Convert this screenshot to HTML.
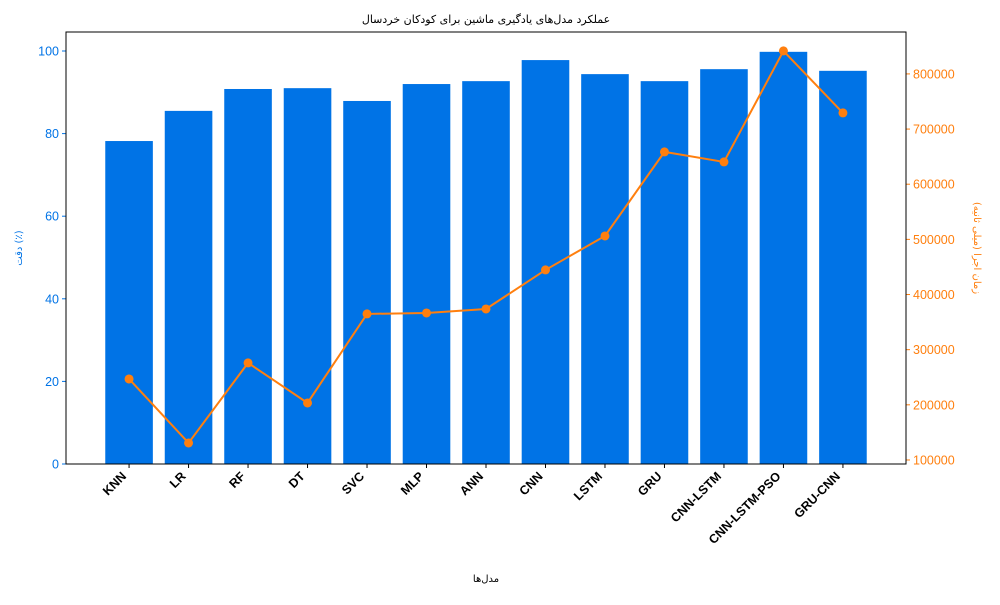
<!DOCTYPE html>
<html><head><meta charset="utf-8"><style>
body{margin:0;background:#fff;}
svg text{font-family:"Liberation Sans","DejaVu Sans",sans-serif;}
</style></head><body>
<svg id="chart" width="1000" height="600" xmlns="http://www.w3.org/2000/svg">
<text x="486" y="23" font-size="11" text-anchor="middle" style="font-family:'DejaVu Sans','Noto Sans CJK SC',sans-serif">عملکرد مدل‌های یادگیری ماشین برای کودکان خردسال</text>
<g id="plot"></g>
<text x="486" y="582" font-size="10" text-anchor="middle" style="font-family:'DejaVu Sans',sans-serif">مدل‌ها</text>
<text transform="translate(22,248) rotate(-90)" font-size="10" fill="#0073e6" text-anchor="middle" style="font-family:'DejaVu Sans',sans-serif">دقت (٪)</text>
<text transform="translate(974,248) rotate(90)" font-size="10" fill="#ff7f0e" text-anchor="middle" style="font-family:'DejaVu Sans',sans-serif">زمان اجرا (میلی ثانیه)</text>
</svg>
<script>
const categories=["KNN","LR","RF","DT","SVC","MLP","ANN","CNN","LSTM","GRU","CNN-LSTM","CNN-LSTM-PSO","GRU-CNN"];
const accuracy=[78.2,85.5,90.8,91.0,87.9,92.0,92.7,97.8,94.4,92.7,95.6,99.8,95.2];
const runtime=[246900,130800,276000,203400,364800,366600,373800,444600,506200,658600,640400,841700,729300];
const leftTicks=[0,20,40,60,80,100];
const rightTicks=[100000,200000,300000,400000,500000,600000,700000,800000];
const L=66,R=906,T=32,B=464;
const xs=i=>L+(i+1.06)/14.12*(R-L);
const yl=v=>B-v/104.6*(B-T);
const yr=v=>B-(v-92700)/(876000-92700)*(B-T);
const NS="http://www.w3.org/2000/svg";
const g=document.getElementById('plot');
function mk(t,a,p){const e=document.createElementNS(NS,t);for(const k in a)e.setAttribute(k,a[k]);(p||g).appendChild(e);return e;}
const bw=0.8/14.12*(R-L);
categories.forEach((c,i)=>{
 const b=mk('rect',{x:xs(i)-bw/2,y:yl(accuracy[i]),width:bw,height:B-yl(accuracy[i]),fill:'#0073e6'});
 
 
 mk('line',{x1:xs(i),x2:xs(i),y1:B,y2:B+4,stroke:'#000'});
 const t=mk('text',{transform:`translate(${xs(i)-2},${B+13}) rotate(-45)`,'text-anchor':'end','font-size':12.5,'font-weight':'bold'});
 t.textContent=c;
 
 
});
leftTicks.forEach(v=>{
 mk('line',{x1:L-4,x2:L,y1:yl(v),y2:yl(v),stroke:'#0073e6'});
 const t=mk('text',{x:L-7,y:yl(v)+4.5,'text-anchor':'end','font-size':12.5,fill:'#0073e6'});t.textContent=v;
 
 
});
rightTicks.forEach(v=>{
 mk('line',{x1:R,x2:R+4,y1:yr(v),y2:yr(v),stroke:'#ff7f0e'});
 const t=mk('text',{x:R+7,y:yr(v)+4.5,'font-size':12.5,fill:'#ff7f0e'});t.textContent=v;
 
 
});
mk('rect',{x:L,y:T,width:R-L,height:B-T,fill:'none',stroke:'#000','stroke-width':1});
const pl=mk('polyline',{points:runtime.map((v,i)=>xs(i)+','+yr(v)).join(' '),fill:'none',stroke:'#ff7f0e','stroke-width':2});


runtime.forEach((v,i)=>{
 const c=mk('circle',{cx:xs(i),cy:yr(v),r:4.5,fill:'#ff7f0e'});
 
 
});
</script>
</body></html>
